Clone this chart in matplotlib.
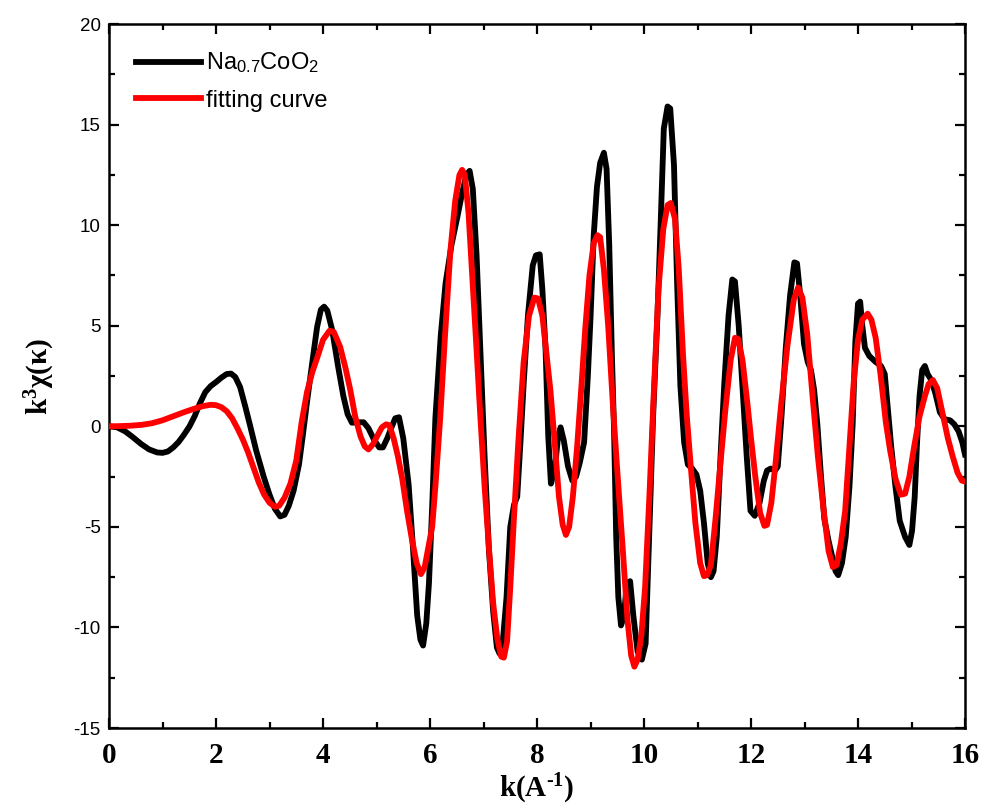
import matplotlib
matplotlib.use("Agg")
import matplotlib.pyplot as plt
from matplotlib.ticker import MultipleLocator

plt.rcParams["mathtext.fontset"] = "custom"
plt.rcParams["mathtext.rm"] = "Liberation Serif:bold"
plt.rcParams["mathtext.sf"] = "Liberation Sans"
plt.rcParams["mathtext.it"] = "Liberation Serif:bold:italic"
plt.rcParams["mathtext.bf"] = "Liberation Serif:bold"
plt.rcParams["axes.unicode_minus"] = False

# measured k^3 chi(k) of Na0.7CoO2
k_meas = [0.00, 0.15, 0.30, 0.45, 0.60, 0.75, 0.90, 1.00, 1.10, 1.20, 1.30, 1.40, 1.50, 1.60, 1.70, 1.80,
          1.90, 2.00, 2.10, 2.20, 2.28, 2.36, 2.45, 2.55, 2.64, 2.75, 2.89, 3.00, 3.10, 3.20, 3.28, 3.36,
          3.45, 3.55, 3.62, 3.70, 3.80, 3.89, 3.96, 4.02, 4.08, 4.17, 4.28, 4.38, 4.46, 4.54, 4.65, 4.76,
          4.85, 4.95, 5.05, 5.12, 5.20, 5.28, 5.35, 5.42, 5.50, 5.60, 5.68, 5.76, 5.82, 5.87, 5.93, 5.98,
          6.04, 6.10, 6.20, 6.29, 6.40, 6.51, 6.60, 6.68, 6.74, 6.80, 6.87, 6.94, 7.02, 7.10, 7.18, 7.25,
          7.30, 7.36, 7.43, 7.50, 7.57, 7.63, 7.69, 7.75, 7.83, 7.92, 7.98, 8.05, 8.10, 8.16, 8.21, 8.26,
          8.33, 8.39, 8.44, 8.50, 8.58, 8.66, 8.73, 8.80, 8.88, 8.95, 9.00, 9.06, 9.12, 9.18, 9.25, 9.30,
          9.35, 9.40, 9.44, 9.48, 9.52, 9.57, 9.62, 9.68, 9.74, 9.80, 9.88, 9.96, 10.03, 10.09, 10.17, 10.25,
          10.31, 10.37, 10.44, 10.49, 10.56, 10.62, 10.68, 10.75, 10.82, 10.90, 10.98, 11.05, 11.12, 11.19,
          11.25, 11.30, 11.36, 11.43, 11.50, 11.58, 11.65, 11.70, 11.77, 11.84, 11.92, 11.99, 12.07, 12.16,
          12.24, 12.30, 12.37, 12.45, 12.50, 12.57, 12.65, 12.73, 12.81, 12.86, 12.92, 12.99, 13.06, 13.12,
          13.18, 13.24, 13.30, 13.37, 13.45, 13.52, 13.58, 13.63, 13.70, 13.77, 13.84, 13.90, 13.95, 14.00,
          14.04, 14.08, 14.13, 14.21, 14.33, 14.43, 14.50, 14.56, 14.62, 14.70, 14.78, 14.88, 14.96, 15.01,
          15.06, 15.10, 15.15, 15.20, 15.25, 15.30, 15.37, 15.45, 15.53, 15.62, 15.72, 15.80, 15.88, 15.95,
          16.00]
chi_meas = [0.00, -0.05, -0.25, -0.55, -0.88, -1.15, -1.30, -1.32, -1.25, -1.05, -0.78, -0.42, -0.02, 0.50,
            1.15, 1.70, 2.00, 2.20, 2.42, 2.60, 2.62, 2.45, 1.95, 0.95, 0.00, -1.20, -2.50, -3.40, -4.10,
            -4.48, -4.40, -3.95, -3.20, -1.90, -0.50, 1.20, 3.20, 4.95, 5.80, 5.95, 5.75, 4.80, 3.00, 1.50,
            0.60, 0.18, 0.20, 0.20, -0.10, -0.65, -1.05, -1.05, -0.60, -0.05, 0.40, 0.45, -0.60, -2.90,
            -6.00, -9.40, -10.60, -10.90, -9.80, -7.80, -4.00, 0.40, 4.50, 7.10, 9.00, 10.40, 11.60, 12.50,
            12.70, 11.80, 8.50, 3.80, -1.50, -6.10, -9.20, -11.00, -11.30, -10.70, -8.50, -5.00, -3.90,
            -3.50, -0.80, 2.10, 5.50, 8.00, 8.50, 8.55, 6.80, 3.80, -0.50, -2.85, -2.20, -0.60, -0.05,
            -0.70, -2.00, -2.70, -2.50, -1.80, -0.80, 2.50, 5.40, 9.50, 11.90, 13.10, 13.60, 12.80, 9.00,
            3.50, -0.20, -5.50, -8.50, -9.90, -9.50, -7.80, -7.70, -9.40, -11.20, -11.60, -10.80, -5.90,
            0.50, 5.40, 10.00, 14.80, 15.90, 15.80, 13.00, 7.00, 2.00, -0.80, -1.90, -2.10, -2.40, -3.20,
            -4.80, -6.80, -7.50, -7.20, -5.50, -1.50, 2.10, 5.50, 7.30, 7.20, 5.00, 2.00, -1.50, -4.20,
            -4.45, -3.80, -2.70, -2.20, -2.10, -2.20, -2.00, 0.50, 3.90, 6.50, 8.15, 8.10, 6.50, 4.10,
            3.20, 2.80, 1.80, 0.10, -2.20, -4.60, -5.70, -6.50, -7.20, -7.40, -6.80, -5.50, -3.00, 0.10,
            4.20, 6.10, 6.20, 5.00, 3.90, 3.50, 3.20, 3.00, 2.60, 0.80, -1.00, -3.00, -4.70, -5.50, -5.90,
            -5.20, -3.50, -1.00, 1.50, 2.80, 3.00, 2.60, 2.30, 1.60, 0.70, 0.35, 0.30, 0.10, -0.25, -0.80,
            -1.40]

# fitted curve
k_fit = [0.00, 0.20, 0.40, 0.60, 0.80, 1.00, 1.20, 1.40, 1.60, 1.75, 1.90, 2.00, 2.10, 2.20, 2.30, 2.40,
         2.50, 2.60, 2.70, 2.80, 2.90, 3.00, 3.10, 3.18, 3.28, 3.39, 3.50, 3.60, 3.70, 3.80, 3.89, 4.00,
         4.12, 4.20, 4.32, 4.42, 4.51, 4.60, 4.70, 4.78, 4.85, 4.93, 5.02, 5.10, 5.18, 5.24, 5.32, 5.40,
         5.48, 5.57, 5.66, 5.75, 5.83, 5.90, 5.97, 6.04, 6.10, 6.19, 6.28, 6.38, 6.47, 6.55, 6.60, 6.65,
         6.72, 6.80, 6.87, 6.94, 7.02, 7.10, 7.18, 7.26, 7.33, 7.38, 7.44, 7.50, 7.57, 7.65, 7.75, 7.85,
         7.95, 8.02, 8.10, 8.18, 8.25, 8.33, 8.41, 8.48, 8.54, 8.60, 8.67, 8.75, 8.83, 8.90, 8.98, 9.06,
         9.13, 9.18, 9.25, 9.33, 9.42, 9.50, 9.60, 9.69, 9.76, 9.82, 9.88, 9.95, 10.02, 10.10, 10.18, 10.27,
         10.36, 10.44, 10.50, 10.58, 10.65, 10.73, 10.80, 10.88, 10.96, 11.05, 11.12, 11.18, 11.25, 11.34,
         11.43, 11.52, 11.62, 11.70, 11.76, 11.84, 11.93, 12.00, 12.08, 12.17, 12.25, 12.30, 12.38, 12.46,
         12.56, 12.68, 12.80, 12.88, 12.96, 13.05, 13.15, 13.25, 13.35, 13.45, 13.53, 13.60, 13.68, 13.76,
         13.84, 13.92, 14.00, 14.08, 14.18, 14.25, 14.33, 14.42, 14.52, 14.60, 14.70, 14.80, 14.88, 14.96,
         15.05, 15.15, 15.25, 15.32, 15.40, 15.48, 15.58, 15.68, 15.77, 15.86, 15.94, 16.00]
chi_fit = [0.00, 0.01, 0.03, 0.07, 0.15, 0.30, 0.50, 0.70, 0.88, 1.00, 1.07, 1.05, 0.95, 0.75, 0.40, -0.10,
           -0.65, -1.30, -2.05, -2.80, -3.40, -3.80, -4.00, -3.95, -3.55, -2.85, -1.70, 0.20, 1.70, 2.70,
           3.40, 4.30, 4.75, 4.70, 3.95, 2.90, 1.80, 0.50, -0.50, -1.00, -1.15, -0.90, -0.45, -0.05, 0.10,
           0.05, -0.60, -1.50, -2.60, -4.20, -5.60, -6.80, -7.35, -7.00, -6.00, -5.00, -3.00, 0.40, 4.50,
           8.70, 11.20, 12.50, 12.75, 12.50, 10.60, 7.00, 3.80, 0.50, -3.00, -6.00, -8.80, -10.60, -11.45,
           -11.50, -10.70, -8.00, -4.50, -0.80, 3.20, 5.50, 6.40, 6.35, 5.50, 3.50, 1.80, -0.80, -3.50,
           -4.90, -5.40, -5.00, -3.50, -1.00, 2.00, 4.80, 7.50, 9.10, 9.50, 9.40, 7.80, 5.00, 1.00, -2.20,
           -6.00, -9.60, -11.40, -11.95, -11.60, -10.40, -8.00, -3.50, 1.50, 6.80, 9.80, 11.00, 11.10,
           10.30, 7.80, 3.50, 0.50, -2.20, -4.80, -6.80, -7.45, -7.40, -6.90, -4.50, -1.80, 0.80, 3.30,
           4.40, 4.35, 3.30, 1.20, -0.60, -2.50, -4.30, -4.95, -4.90, -3.80, -1.80, 1.00, 4.00, 6.30, 6.90,
           6.40, 4.60, 1.50, -1.50, -4.00, -6.20, -7.00, -6.90, -5.80, -4.20, -1.00, 2.20, 4.30, 5.30, 5.60,
           5.30, 4.40, 2.60, 0.20, -1.20, -2.60, -3.40, -3.35, -2.50, -1.00, 0.50, 1.50, 2.10, 2.30, 1.90,
           0.64, -0.60, -1.50, -2.30, -2.70, -2.75]

x_ticks = [0, 2, 4, 6, 8, 10, 12, 14, 16]
y_ticks = [-15, -10, -5, 0, 5, 10, 15, 20]

fig = plt.figure(figsize=(9.85, 8.09), dpi=100)
ax = fig.add_axes([0.1107, 0.1001, 0.8690, 0.8702])

ax.plot(k_meas, chi_meas, color="black", lw=4.2, solid_joinstyle="round",
        label=r"Na$_{\mathsf{0.7}}$CoO$_{\mathsf{2}}$", zorder=2)
ax.plot(k_fit, chi_fit, color="#ff0000", lw=4.2, solid_joinstyle="round",
        label="fitting curve", zorder=3)

ax.set_xlim(0, 16)
ax.set_ylim(-15, 20)
ax.set_xticks(x_ticks)
ax.set_yticks(y_ticks)
ax.xaxis.set_minor_locator(MultipleLocator(1))
ax.yaxis.set_minor_locator(MultipleLocator(2.5))

ax.tick_params(which="both", direction="in", top=True, right=True, width=1.6)
ax.tick_params(which="major", length=7)
ax.tick_params(which="minor", length=4)
ax.tick_params(axis="x", which="major", pad=10)
ax.tick_params(axis="y", which="major", pad=6)
for lab in ax.get_xticklabels():
    lab.set_fontfamily("Liberation Serif")
    lab.set_fontweight("bold")
    lab.set_fontsize(21)
for lab in ax.get_yticklabels():
    lab.set_fontfamily("Liberation Sans")
    lab.set_fontsize(13.5)

for sp in ax.spines.values():
    sp.set_linewidth(1.8)

ax.set_xlabel(r"k(A$^{\text{-1}}$)", fontfamily="Liberation Serif", fontweight="bold",
              fontsize=21, labelpad=2)
ax.set_ylabel(r"k$^{3}$χ(κ)", fontfamily="Liberation Serif", fontweight="bold",
              fontsize=21, labelpad=12)

leg = ax.legend(loc="upper left", frameon=False, handlelength=2.75, handletextpad=0.2,
                labelspacing=0.6, borderaxespad=0.75, borderpad=0.4,
                prop={"family": "Liberation Sans", "size": 17})

fig.savefig("out.png", dpi=100)
